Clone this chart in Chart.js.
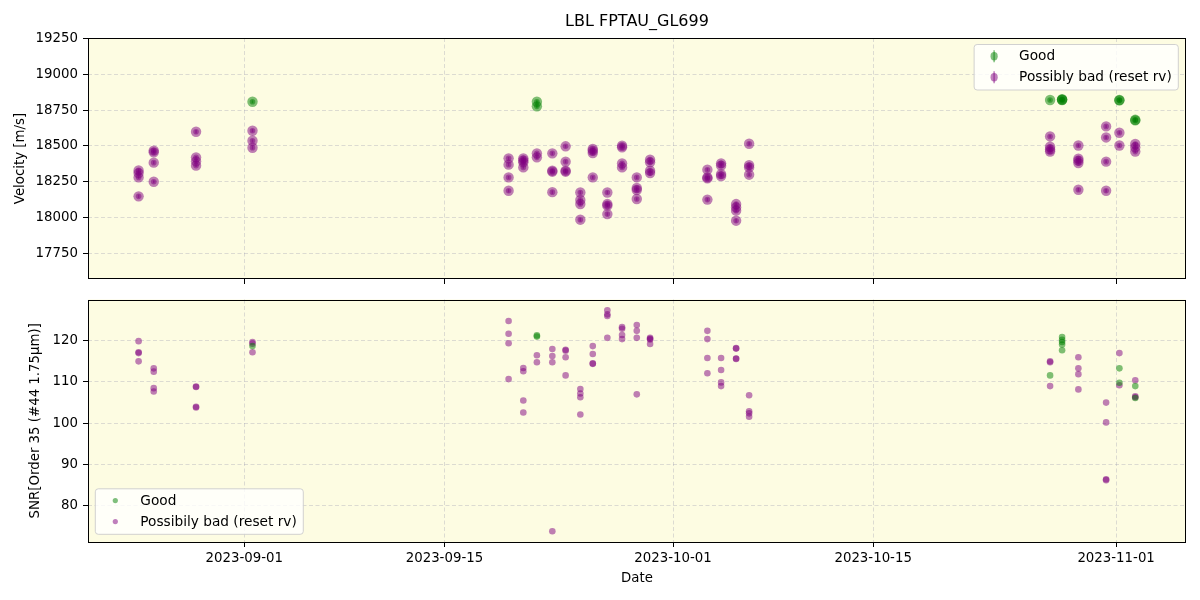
<!DOCTYPE html>
<html><head><meta charset="utf-8">
<script src="https://cdn.jsdelivr.net/npm/chart.js@4.4.1/dist/chart.umd.min.js"></script>
<style>
html,body{margin:0;padding:0;background:#fff;}
#wrap{position:relative;width:1200px;height:600px;background:#fff;}
#c1{position:absolute;left:0;top:0;}
#c2{position:absolute;left:0;top:289px;}
</style></head><body>
<div id="wrap"><canvas id="c1" width="1200" height="289"></canvas><canvas id="c2" width="1200" height="311"></canvas></div>
<script>
// ---------------- data ----------------
const chartTitle = 'LBL FPTAU_GL699';
const xTickLabels = ['2023-09-01','2023-09-15','2023-10-01','2023-10-15','2023-11-01'];
const xRange = ['2023-08-21T01:26','2023-11-05T21:22'];
const velTicks = [17750,18000,18250,18500,18750,19000,19250];
const velRange = [17571, 19253];
const snrTicks = [80,90,100,110,120];
const snrRange = [71.2, 130.0];

const nights = [
  '2023-08-24T14:24','2023-08-25T15:50','2023-08-28T14:53','2023-09-01T13:40',
  '2023-09-19T11:46','2023-09-20T12:29','2023-09-21T11:17','2023-09-22T13:12',
  '2023-09-23T11:31','2023-09-24T12:14','2023-09-25T09:07','2023-09-26T09:36',
  '2023-09-27T10:19','2023-09-28T11:02','2023-09-29T09:22','2023-10-03T09:36',
  '2023-10-04T08:38','2023-10-05T09:50','2023-10-06T07:41','2023-10-27T09:07',
  '2023-10-28T05:17','2023-10-29T08:38','2023-10-31T07:12','2023-11-01T05:31',
  '2023-11-02T08:10'
];

// velocity - Good
const goodVelNight = [3,6,6,19,20,20,20,23,23,24,24];
const goodVel      = [18808,18808,18776,18820,18826,18822,18820,18820,18818,18682,18678];
const goodVelErr   = [10,11,12,9,10,9,11,10,9,12,11];

// velocity - Possibly bad
const badVelNight = [0,0,0,0, 1,1,1,1, 2,2,2,2, 3,3,3, 4,4,4,4, 5,5,5,5, 6,6, 7,7,7,7, 8,8,8,8,
  9,9,9,9, 10,10,10,10, 11,11,11,11, 12,12,12,12, 13,13,13,13, 14,14,14,14, 15,15,15,15,
  16,16,16,16, 17,17,17,17, 18,18,18,18, 19,19,19,19, 21,21,21,21,21, 22,22,22,22, 23,23, 24,24,24];
const badVel = [18329,18310,18280,18148, 18467,18455,18383,18250, 18599,18420,18392,18362,
  18606,18536,18487, 18413,18369,18280,18187, 18413,18398,18385,18350, 18448,18420,
  18448,18327,18320,18177, 18497,18390,18327,18320, 18175,18122,18094,17985,
  18478,18466,18450,18280, 18175,18094,18083,18024, 18501,18490,18378,18350,
  18280,18206,18192,18129, 18404,18385,18327,18310, 18334,18280,18273,18125,
  18378,18362,18303,18289, 18094,18071,18048,17978, 18515,18366,18350,18299,
  18566,18494,18475,18461, 18503,18411,18397,18380,18194, 18636,18559,18390,18187,
  18592,18503, 18513,18490,18460];
const badVelErr = [10,11,10,12, 10,9,11,10, 12,10,11,10, 11,10,12, 10,11,10,12, 9,10,11,10, 10,11,
  11,10,9,12, 10,11,10,9, 12,11,10,13, 10,9,11,10, 12,10,11,12, 10,9,11,10,
  11,10,12,11, 10,9,10,11, 11,10,10,12, 10,11,10,9, 12,11,12,13, 11,10,9,10,
  10,11,10,9, 11,10,10,9,12, 12,11,10,12, 10,11, 11,10,10];

// SNR - Good
const goodSnrNight = [3,6,6,19,20,20,20,20,20,23,23,24,24];
const goodSnr      = [118.7,121.3,121.0,111.6,120.9,120.2,119.7,119.1,117.7,113.3,109.8,109.0,106.1];

// SNR - Possibly bad
const badSnrNight = [0,0,0,0, 1,1,1,1, 2,2,2,2, 3,3,3, 4,4,4,4, 5,5,5,5, 6,6, 7,7,7,7, 8,8,8,8,
  9,9,9,9, 10,10,10,10, 11,11,11,11, 12,12,12,12, 13,13,13,13, 14,14,14,14, 15,15,15,15,
  16,16,16,16, 17,17,17,17, 18,18,18,18, 19,19,19, 21,21,21,21, 22,22,22,22, 23,23, 24,24,24];
const badSnr = [119.9,117.2,117.0,115.0, 113.3,112.5,108.5,107.7, 108.9,108.8,104.0,103.8,
  119.7,119.3,117.2, 124.8,121.7,119.4,110.7, 113.4,112.6,105.5,102.6, 116.5,114.8,
  118.0,116.3,114.8,73.8, 117.8,117.6,116.0,111.6, 108.3,107.2,106.3,102.1,
  118.7,116.8,114.5,114.4, 127.4,126.4,126.0,120.7, 123.3,122.9,121.4,120.4,
  123.8,122.4,120.7,107.0, 120.7,120.5,120.3,119.2, 122.4,120.4,115.8,112.1,
  115.8,112.9,109.9,109.0, 118.2,118.1,115.7,115.6, 106.8,102.9,102.4,101.6,
  115.0,114.8,109.0, 116.0,113.3,111.9,108.2, 105.0,100.2,86.4,86.2, 117.0,109.2, 110.4,106.5,106.3];

const seriesLabelsTop = ['Good','Possibly bad (reset rv)'];
const seriesLabelsBottom = ['Good','Possibily bad (reset rv)'];

// ---------------- helpers / styles ----------------
const toMs = s => Date.parse(s.length === 10 ? s + 'T00:00:00Z' : s + ':00Z');
const FAMILY = "'DejaVu Sans', 'Liberation Sans', sans-serif";
const FS = 13.33;
const LEG_FS = 13.7;
const BG = '#fdfce2';
const GRID = 'rgba(160,160,178,0.45)';
const GREEN = 'rgba(0,128,0,0.5)';
const PURPLE = 'rgba(128,0,128,0.5)';

Chart.defaults.font.family = FAMILY;
Chart.defaults.font.size = FS;
Chart.defaults.color = '#000';

const pts = (nightIdx, vals, errs) => vals.map((v, i) => {
  const p = {x: toMs(nights[nightIdx[i]]), y: v};
  if (errs) p.err = errs[i];
  return p;
});

function xScale(showLabels) {
  return {
    type: 'linear', position: 'bottom',
    min: toMs(xRange[0]), max: toMs(xRange[1]),
    afterBuildTicks: s => { s.ticks = xTickLabels.map(d => ({value: toMs(d)})); },
    ticks: { autoSkip: false, maxRotation: 0, padding: 4, font: {size: FS},
      callback: (v, i) => showLabels ? xTickLabels[i] : '' },
    grid: { color: GRID, lineWidth: 0.8, tickColor: '#000', tickLength: 5, tickWidth: 1, tickBorderDash: [] },
    border: { display: false, dash: [4, 2.5] },
    title: showLabels ? { display: true, text: 'Date', font: {size: FS}, padding: {top: 0, bottom: 13} } : {display: false},
    afterFit: s => { s.height = showLabels ? 58 : 10; s.paddingLeft = 0; s.paddingRight = 0; s.paddingTop = 0; s.paddingBottom = 0; }
  };
}
function yScale(range, ticks, title, titlePad) {
  return {
    type: 'linear', position: 'left', min: range[0], max: range[1],
    afterBuildTicks: s => { s.ticks = ticks.map(v => ({value: v})); },
    ticks: { autoSkip: false, padding: 5, font: {size: FS}, callback: v => String(v) },
    grid: { color: GRID, lineWidth: 0.8, tickColor: '#000', tickLength: 5, tickWidth: 1, tickBorderDash: [] },
    border: { display: false, dash: [4, 2.5] },
    title: { display: true, text: title, font: {size: FS}, padding: {top: titlePad, bottom: 0} },
    afterFit: s => { s.width = 88; s.paddingLeft = 0; s.paddingRight = 0; s.paddingTop = 0; s.paddingBottom = 0; }
  };
}

function drawLegend(chart, o) {
  const c = chart.ctx, a = chart.chartArea;
  c.save();
  c.font = LEG_FS + 'px ' + FAMILY;
  const tw = Math.max(...o.items.map(it => c.measureText(it.label).width));
  const w = 45 + tw + 6.5, h = 45.5;
  const x = o.corner === 'ur' ? a.right - 7.7 - w : a.left + 7.3;
  const y = o.corner === 'ur' ? a.top + 6.5 : a.bottom - 7.7 - h;
  c.beginPath();
  if (c.roundRect) c.roundRect(x, y, w, h, 3); else c.rect(x, y, w, h);
  c.fillStyle = 'rgba(255,255,255,0.8)'; c.fill();
  c.strokeStyle = 'rgba(204,204,204,0.9)'; c.lineWidth = 1; c.stroke();
  o.items.forEach((it, i) => {
    const cy = y + 11.8 + i * 21, cx = x + 20;
    if (o.errbar) {
      c.strokeStyle = it.color; c.lineWidth = 1.5;
      c.beginPath(); c.moveTo(cx, cy - 6); c.lineTo(cx, cy + 6); c.stroke();
      c.fillStyle = it.color; c.beginPath(); c.ellipse(cx, cy, 3.6, 4.2, 0, 0, Math.PI * 2); c.fill();
    } else {
      c.fillStyle = it.color; c.beginPath(); c.arc(cx, cy, 2.6, 0, Math.PI * 2); c.fill();
    }
    c.fillStyle = '#000'; c.textBaseline = 'middle'; c.textAlign = 'left';
    c.fillText(it.label, x + 45, cy + 0.5);
  });
  c.restore();
}

const framePlugin = {
  id: 'frame',
  beforeDraw(chart) {
    const a = chart.chartArea, c = chart.ctx;
    c.save(); c.fillStyle = BG; c.fillRect(a.left, a.top, a.right - a.left, a.bottom - a.top); c.restore();
  },
  afterDatasetsDraw(chart, args, opts) {
    if (!opts.errbars) return;
    const c = chart.ctx, ys = chart.scales.y;
    c.save();
    chart.data.datasets.forEach((ds, di) => {
      const meta = chart.getDatasetMeta(di);
      meta.data.forEach((el, i) => {
        const d = ds.data[i];
        if (d.err == null) return;
        const y1 = ys.getPixelForValue(d.y - d.err), y2 = ys.getPixelForValue(d.y + d.err);
        c.strokeStyle = ds.backgroundColor; c.lineWidth = 1.5;
        c.beginPath(); c.moveTo(el.x, y1); c.lineTo(el.x, y2); c.stroke();
        c.fillStyle = ds.backgroundColor;
        c.beginPath(); c.arc(el.x, el.y, 2.8, 0, Math.PI * 2); c.fill();
      });
    });
    c.restore();
  },
  afterDraw(chart, args, opts) {
    const a = chart.chartArea, c = chart.ctx;
    c.save(); c.strokeStyle = '#000'; c.lineWidth = 1;
    c.strokeRect(Math.round(a.left) + 0.5, Math.round(a.top) + 0.5, Math.round(a.right - a.left) - 1, Math.round(a.bottom - a.top) - 1);
    c.restore();
    if (opts.title) {
      c.save(); c.font = '16px ' + FAMILY; c.fillStyle = '#000'; c.textAlign = 'center'; c.textBaseline = 'middle';
      c.fillText(opts.title, (a.left + a.right) / 2, 22); c.restore();
    }
    if (opts.legend) drawLegend(chart, opts.legend);
  }
};

// ---------------- top: velocity ----------------
new Chart(document.getElementById('c1'), {
  type: 'scatter',
  data: { datasets: [
    { label: seriesLabelsTop[0], data: pts(goodVelNight, goodVel, goodVelErr), backgroundColor: GREEN, borderWidth: 0, pointRadius: 5.2, pointHoverRadius: 5.2 },
    { label: seriesLabelsTop[1], data: pts(badVelNight, badVel, badVelErr), backgroundColor: PURPLE, borderWidth: 0, pointRadius: 5.2, pointHoverRadius: 5.2 }
  ]},
  options: {
    responsive: false, animation: false, events: [],
    layout: { padding: { top: 38, right: 14, left: 0, bottom: 0 } },
    scales: { x: xScale(false), y: yScale(velRange, velTicks, 'Velocity [m/s]', 13) },
    plugins: {
      legend: { display: false }, tooltip: { enabled: false },
      frame: { errbars: true, title: chartTitle,
        legend: { corner: 'ur', errbar: true, items: [{label: seriesLabelsTop[0], color: GREEN}, {label: seriesLabelsTop[1], color: PURPLE}] } }
    }
  },
  plugins: [framePlugin]
});

// ---------------- bottom: SNR ----------------
new Chart(document.getElementById('c2'), {
  type: 'scatter',
  data: { datasets: [
    { label: seriesLabelsBottom[0], data: pts(goodSnrNight, goodSnr), backgroundColor: GREEN, borderWidth: 0, pointRadius: 3.3, pointHoverRadius: 3.3 },
    { label: seriesLabelsBottom[1], data: pts(badSnrNight, badSnr), backgroundColor: PURPLE, borderWidth: 0, pointRadius: 3.3, pointHoverRadius: 3.3 }
  ]},
  options: {
    responsive: false, animation: false, events: [],
    layout: { padding: { top: 10.5, right: 14, left: 0, bottom: 0 } },
    scales: { x: xScale(true), y: yScale(snrRange, snrTicks, 'SNR[Order 35 (#44 1.75\u03bcm)]', 28) },
    plugins: {
      legend: { display: false }, tooltip: { enabled: false },
      frame: { errbars: false,
        legend: { corner: 'll', errbar: false, items: [{label: seriesLabelsBottom[0], color: GREEN}, {label: seriesLabelsBottom[1], color: PURPLE}] } }
    }
  },
  plugins: [framePlugin]
});
</script>
</body></html>
